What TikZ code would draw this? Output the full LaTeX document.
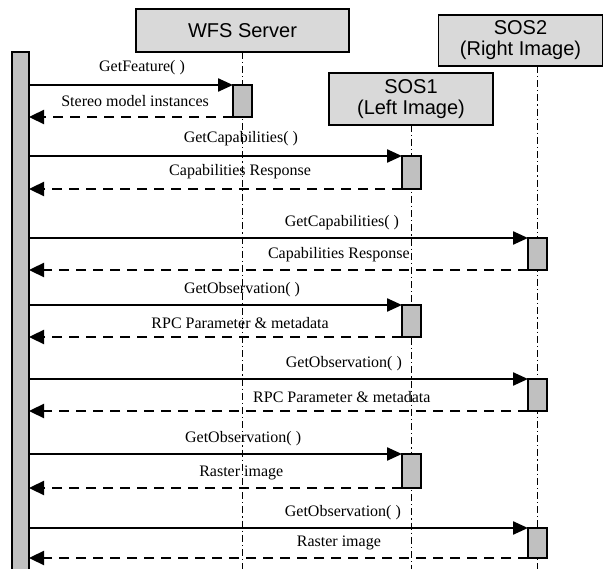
\documentclass[tikz,border=0pt]{standalone}
\usepackage{fontspec}
\setmainfont{Liberation Serif}
\setsansfont{Liberation Sans}
\usetikzlibrary{arrows.meta, positioning}

\definecolor{headgray}{RGB}{217,217,217}
\definecolor{actgray}{RGB}{192,192,192}

\begin{document}
\begin{tikzpicture}[
      x=1pt, y=-1pt,
      head/.style={draw, line width=1.8pt, fill=headgray, inner sep=0pt, outer sep=0pt, align=center, font=\sffamily\fontsize{20}{21}\selectfont},
      act/.style={draw, line width=1.6pt, fill=actgray, minimum width=19pt, inner sep=0pt, outer sep=0pt, anchor=north},
      life/.style={line width=1.2pt, dash pattern=on 7pt off 3pt on 1.2pt off 3pt},
      call/.style={line width=2.3pt, -{Triangle[length=15pt, width=13pt]}},
      reply/.style={line width=2.3pt, dash pattern=on 10pt off 7pt, -{Triangle[length=15pt, width=14pt]}},
      lbl/.style={font=\fontsize{16}{18}\selectfont, inner sep=0pt, above=7pt}
    ]
    \useasboundingbox[fill=white] (0,0) rectangle (603,569);

    % object heads and the client bar
    \node[head, minimum width=213pt, minimum height=43pt] (wfs) at (242.5,30.5) {WFS Server};
    \node[head, minimum width=164pt, minimum height=52pt] (sos1) at (411,99) {SOS1\\(Left Image)};
    \node[head, minimum width=164pt, minimum height=51pt] (sos2) at (520.5,40.5) {SOS2\\(Right Image)};
    \node[draw, line width=1.8pt, fill=actgray, outer sep=0pt, minimum width=17pt, minimum height=530pt, anchor=north west] (client) at (12,52) {};

    % lifelines
    \coordinate (wfsend) at (242.5,575);
    \coordinate (sos1end) at (411.5,575);
    \coordinate (sos2end) at (537.5,575);
    \draw[life] (wfs.south -| wfsend) -- (wfsend);
    \draw[life] (sos1.south -| sos1end) -- (sos1end);
    \draw[life] (sos2.south -| sos2end) -- (sos2end);

    % activations
    \node[act, minimum height=32pt] (a1) at (wfsend |- 0,85) {};
    \node[act, minimum height=33pt] (a2) at (sos1end |- 0,156) {};
    \node[act, minimum height=32pt] (a3) at (sos2end |- 0,238) {};
    \node[act, minimum height=32pt] (a4) at (sos1end |- 0,305) {};
    \node[act, minimum height=32pt] (a5) at (sos2end |- 0,379) {};
    \node[act, minimum height=34pt] (a6) at (sos1end |- 0,454) {};
    \node[act, minimum height=30pt] (a7) at (sos2end |- 0,528) {};

    % messages
    \draw[call] (client.east |- a1.north west) -- node[lbl, above=9pt, pos=0.554]{GetFeature( )} (a1.north west);
    \draw[reply] (a1.south west) -- node[lbl, above=9pt, pos=0.48]{Stereo model instances} (client.east |- a1.south west);

    \draw[call] (client.east |- a2.north west) -- node[lbl, above=9pt, pos=0.568]{GetCapabilities( )} (a2.north west);
    \draw[reply] (a2.south west) -- node[lbl, above=9pt, pos=0.434]{Capabilities Response} (client.east |- a2.south west);

    \draw[call] (client.east |- a3.north west) -- node[lbl, pos=0.627]{GetCapabilities( )} (a3.north west);
    \draw[reply] (a3.south west) -- node[lbl, pos=0.379]{Capabilities Response} (client.east |- a3.south west);

    \draw[call] (client.east |- a4.north west) -- node[lbl, pos=0.571]{GetObservation( )} (a4.north west);
    \draw[reply] (a4.south west) -- node[lbl, pos=0.434]{RPC Parameter \& metadata} (client.east |- a4.south west);

    \draw[call] (client.east |- a5.north west) -- node[lbl, pos=0.631]{GetObservation( )} (a5.north west);
    \draw[reply] (a5.south west) -- node[lbl, pos=0.373]{RPC Parameter \& metadata} (client.east |- a5.south west);

    \draw[call] (client.east |- a6.north west) -- node[lbl, pos=0.574]{GetObservation( )} (a6.north west);
    \draw[reply] (a6.south west) -- node[lbl, pos=0.431]{Raster image} (client.east |- a6.south west);

    \draw[call] (client.east |- a7.north west) -- node[lbl, pos=0.629]{GetObservation( )} (a7.north west);
    \draw[reply] (a7.south west) -- node[lbl, pos=0.379]{Raster image} (client.east |- a7.south west);
  \end{tikzpicture}
\end{document}
